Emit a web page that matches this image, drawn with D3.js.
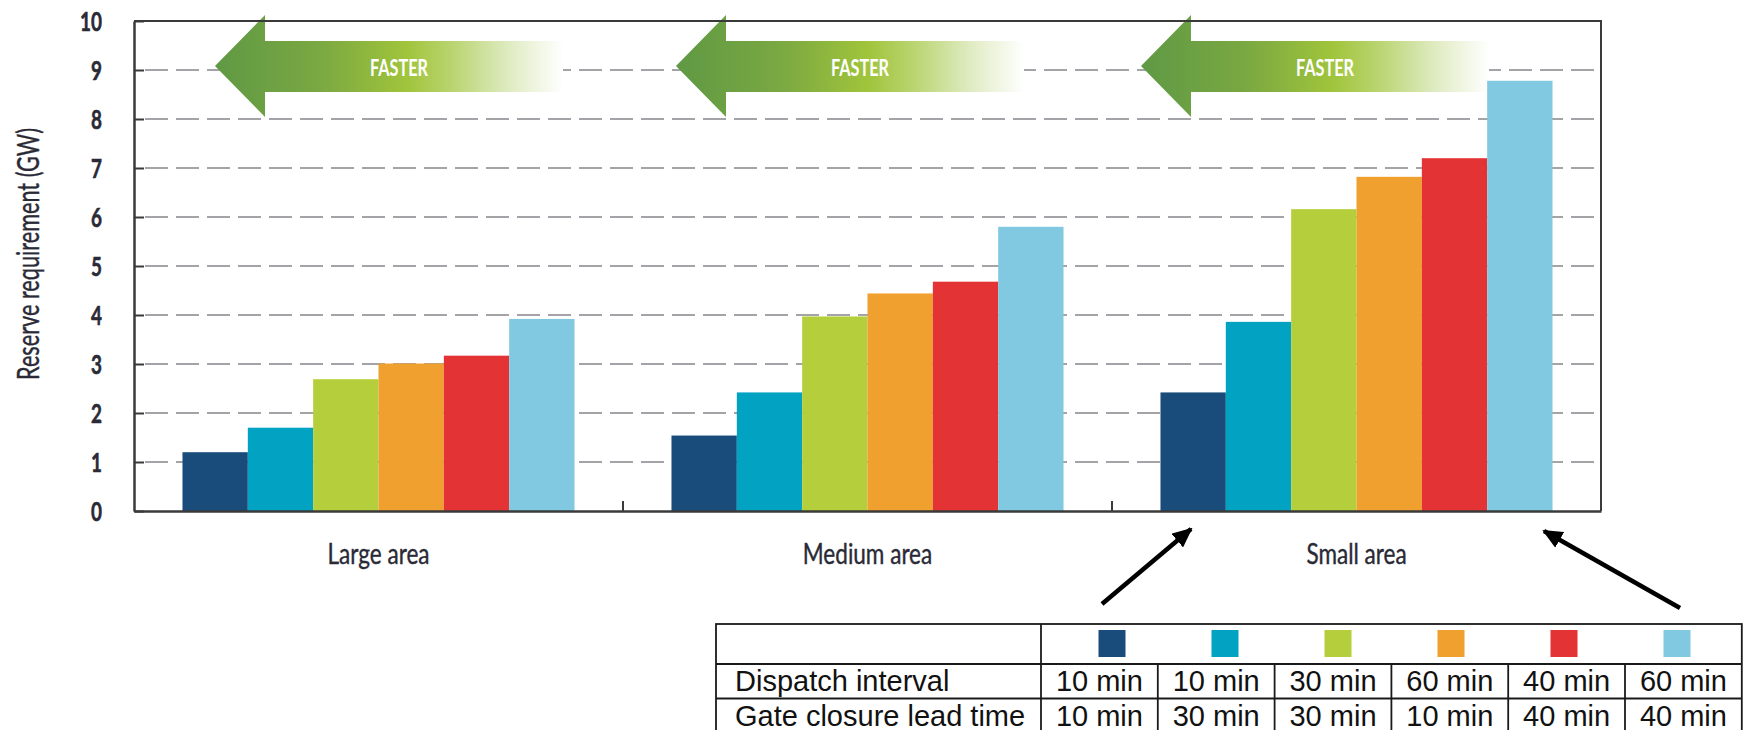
<!DOCTYPE html>
<html>
<head>
<meta charset="utf-8">
<script src="https://cdn.jsdelivr.net/npm/d3@7"></script>
<style>
  html, body { margin: 0; padding: 0; background: #fff; overflow: hidden; }
  svg { display: block; }
</style>
</head>
<body>
<svg id="chart" width="1745" height="730"></svg>
<script>
// ---- data ----
const categories = ["Large area", "Medium area", "Small area"];
const seriesIds = ["d10g10", "d10g30", "d30g30", "d60g10", "d40g40", "d60g40"];
// reserve requirement (GW) per series, one value per area size
const seriesValues = [
  [1.20, 1.54, 2.42],
  [1.70, 2.42, 3.86],
  [2.69, 3.97, 6.16],
  [3.01, 4.44, 6.82],
  [3.17, 4.68, 7.20],
  [3.92, 5.80, 8.78]
];
const seriesColors = ["#1a4c7b", "#02a2c3", "#b4cf3b", "#f0a02f", "#e43335", "#80c9e0"];
const dispatchInterval = ["10 min", "10 min", "30 min", "60 min", "40 min", "60 min"];
const gateClosure = ["10 min", "30 min", "30 min", "10 min", "40 min", "40 min"];
const rowLabels = ["Dispatch interval", "Gate closure lead time"];
const yTicks = [0, 1, 2, 3, 4, 5, 6, 7, 8, 9, 10];
const yTitle = "Reserve requirement (GW)";
const arrowLabel = "FASTER";

// ---- layout ----
const svg = d3.select("#chart");
const plot = { left: 134, right: 1601, top: 21, bottom: 511 };
const labelFont = "Lato, 'Open Sans', sans-serif";
const ink = "#2a2a36";

const y = d3.scaleLinear().domain([0, 10]).range([plot.bottom, plot.top]);
const x0 = d3.scaleBand().domain(categories).range([plot.left, plot.right]);
const x1 = d3.scaleBand().domain(seriesIds).range([0, x0.bandwidth()]).paddingOuter(0.742);

// squeeze text horizontally to imitate a condensed face
function condense(sel, factor) {
  sel.each(function () {
    const w = this.getComputedTextLength();
    d3.select(this).attr("textLength", w * factor).attr("lengthAdjust", "spacingAndGlyphs");
  });
}
// factor that brings the first text of a selection to a given width
function factorFor(sel, width) {
  return width / sel.node().getComputedTextLength();
}

// dashed gridlines
svg.append("g")
  .selectAll("line")
  .data(yTicks.filter(t => t > 0 && t < 10))
  .join("line")
  .attr("x1", plot.left + 11)
  .attr("x2", plot.right)
  .attr("y1", d => y(d))
  .attr("y2", d => y(d))
  .attr("stroke", "#a4a4a8")
  .attr("stroke-width", 2)
  .attr("stroke-dasharray", "23,8");

// FASTER arrows
const defs = svg.append("defs");
const grad = defs.append("linearGradient").attr("id", "fasterGrad")
  .attr("x1", "0%").attr("x2", "100%").attr("y1", "0%").attr("y2", "0%");
[[0, "#5f9944"], [0.3, "#7aa842"], [0.55, "#a0c43b"], [0.68, "#b9d46f"], [0.85, "#e0ecc4"], [1, "#ffffff"]]
  .forEach(([o, c]) => grad.append("stop").attr("offset", o).attr("stop-color", c));

const arrowTips = [215, 676, 1141];
const arrowY = 66;
const arrows = svg.append("g");
arrowTips.forEach(tx => {
  const p = d3.path();
  p.moveTo(tx, arrowY);
  p.lineTo(tx + 50, arrowY - 51);
  p.lineTo(tx + 50, arrowY - 25);
  p.lineTo(tx + 348, arrowY - 25);
  p.lineTo(tx + 348, arrowY + 26);
  p.lineTo(tx + 50, arrowY + 26);
  p.lineTo(tx + 50, arrowY + 51);
  p.closePath();
  arrows.append("path").attr("d", p.toString()).attr("fill", "url(#fasterGrad)");
  arrows.append("text")
    .attr("x", tx + 184).attr("y", arrowY + 10)
    .attr("text-anchor", "middle")
    .attr("font-family", labelFont).attr("font-weight", 700).attr("font-size", 23)
    .attr("fill", "#ffffff")
    .attr("textLength", 58).attr("lengthAdjust", "spacingAndGlyphs")
    .text(arrowLabel);
});

// bars
const groups = svg.append("g")
  .selectAll("g")
  .data(categories)
  .join("g")
  .attr("transform", d => `translate(${x0(d)},0)`);

groups.selectAll("rect")
  .data((c, ci) => seriesIds.map((s, si) => ({ s, si, v: seriesValues[si][ci] })))
  .join("rect")
  .attr("x", d => x1(d.s))
  .attr("width", x1.bandwidth())
  .attr("y", d => y(d.v))
  .attr("height", d => y(0) - y(d.v))
  .attr("fill", d => seriesColors[d.si]);

// left axis
const yAxis = svg.append("g")
  .attr("transform", `translate(${plot.left},0)`)
  .call(d3.axisLeft(y).tickValues(yTicks).tickSize(-10).tickSizeOuter(0).tickPadding(32).tickFormat(d3.format("d")));
yAxis.select(".domain").attr("stroke", "#3a3a3a").attr("stroke-width", 2.5);
yAxis.selectAll(".tick line").attr("stroke", "#3a3a3a").attr("stroke-width", 2);
const yLabels = yAxis.selectAll(".tick text")
  .attr("font-family", labelFont).attr("font-weight", 700).attr("font-size", 27)
  .attr("fill", ink).attr("stroke", ink).attr("stroke-width", 0.6)
  .attr("dy", "0.36em");
condense(yLabels, 0.7);

// bottom axis with category labels
const xAxis = svg.append("g")
  .attr("transform", `translate(0,${plot.bottom})`)
  .call(d3.axisBottom(x0).tickSize(0).tickSizeOuter(0).tickPadding(32));
xAxis.select(".domain").attr("stroke", "#3a3a3a").attr("stroke-width", 2.5);
const xLabels = xAxis.selectAll(".tick text")
  .attr("font-family", labelFont).attr("font-weight", 400).attr("font-size", 29)
  .attr("fill", ink).attr("stroke", ink).attr("stroke-width", 0.4);
condense(xLabels, factorFor(xLabels, 102));

// group separators on the x axis
svg.append("g")
  .selectAll("line")
  .data(categories.slice(1))
  .join("line")
  .attr("x1", d => x0(d)).attr("x2", d => x0(d))
  .attr("y1", plot.bottom).attr("y2", plot.bottom - 10)
  .attr("stroke", "#3a3a3a").attr("stroke-width", 2);

// top and right frame
svg.append("path")
  .attr("d", `M${plot.left},${plot.top}H${plot.right}V${plot.bottom}`)
  .attr("fill", "none").attr("stroke", "#3a3a3a").attr("stroke-width", 2);

// y axis title
svg.append("text")
  .attr("transform", `translate(39,${(plot.top + plot.bottom) / 2 - 12}) rotate(-90)`)
  .attr("text-anchor", "middle")
  .attr("font-family", labelFont).attr("font-size", 31)
  .attr("fill", ink).attr("stroke", ink).attr("stroke-width", 0.4)
  .attr("textLength", 252).attr("lengthAdjust", "spacingAndGlyphs")
  .text(yTitle);

// pointer arrows to the legend table
defs.append("marker")
  .attr("id", "head").attr("markerUnits", "userSpaceOnUse")
  .attr("viewBox", "0 0 20 18").attr("refX", 18).attr("refY", 9)
  .attr("markerWidth", 20).attr("markerHeight", 18).attr("orient", "auto")
  .append("path").attr("d", "M0,0L20,9L0,18Z").attr("fill", "#000");

const pointers = [
  [[1102, 604], [1191, 529]],
  [[1680, 608], [1544, 531]]
];
svg.append("g")
  .selectAll("line")
  .data(pointers)
  .join("line")
  .attr("x1", d => d[0][0]).attr("y1", d => d[0][1])
  .attr("x2", d => d[1][0]).attr("y2", d => d[1][1])
  .attr("stroke", "#000").attr("stroke-width", 4.5)
  .attr("marker-end", "url(#head)");

// legend table
const tbl = { left: 716, top: 624, labelW: 325, colW: 116.8, headH: 40, rowH: 34.5 };
const colX = d3.scaleBand().domain(seriesIds)
  .range([tbl.left + tbl.labelW, tbl.left + tbl.labelW + tbl.colW * seriesIds.length]);
const tblRight = colX.range()[1];
const tblBottom = tbl.top + tbl.headH + tbl.rowH * 2;
const tg = svg.append("g");
const lineStyle = s => s.attr("stroke", "#1a1a1a").attr("stroke-width", 1.8).attr("fill", "none");

tg.append("rect")
  .attr("x", tbl.left).attr("y", tbl.top)
  .attr("width", tblRight - tbl.left).attr("height", tblBottom - tbl.top)
  .call(lineStyle);
[tbl.top + tbl.headH, tbl.top + tbl.headH + tbl.rowH].forEach(yy =>
  tg.append("line").attr("x1", tbl.left).attr("x2", tblRight).attr("y1", yy).attr("y2", yy).call(lineStyle));
tg.append("line").attr("x1", colX(seriesIds[0])).attr("x2", colX(seriesIds[0]))
  .attr("y1", tbl.top).attr("y2", tblBottom).call(lineStyle);
tg.selectAll("line.col")
  .data(seriesIds.slice(1))
  .join("line").attr("class", "col")
  .attr("x1", d => colX(d)).attr("x2", d => colX(d))
  .attr("y1", tbl.top + tbl.headH).attr("y2", tblBottom)
  .call(lineStyle);

// colour swatches in the header row
const swatchX = d3.scalePoint().domain(seriesIds).range([1112, 1677]);
tg.selectAll("rect.sw")
  .data(seriesIds)
  .join("rect").attr("class", "sw")
  .attr("x", d => swatchX(d) - 13.5).attr("y", tbl.top + 6)
  .attr("width", 27).attr("height", 27)
  .attr("fill", (d, i) => seriesColors[i]);

const cellFont = "'Liberation Sans', Arial, sans-serif";
[dispatchInterval, gateClosure].forEach((row, ri) => {
  const by = tbl.top + tbl.headH + tbl.rowH * ri + 27;
  tg.append("text")
    .attr("x", tbl.left + 19).attr("y", by)
    .attr("font-family", cellFont).attr("font-size", 29).attr("fill", "#111")
    .text(rowLabels[ri]);
  tg.selectAll(null)
    .data(row)
    .join("text")
    .attr("x", (d, i) => colX(seriesIds[i]) + colX.bandwidth() / 2)
    .attr("y", by)
    .attr("text-anchor", "middle")
    .attr("font-family", cellFont).attr("font-size", 29).attr("fill", "#111")
    .text(d => d);
});
</script>
</body>
</html>
